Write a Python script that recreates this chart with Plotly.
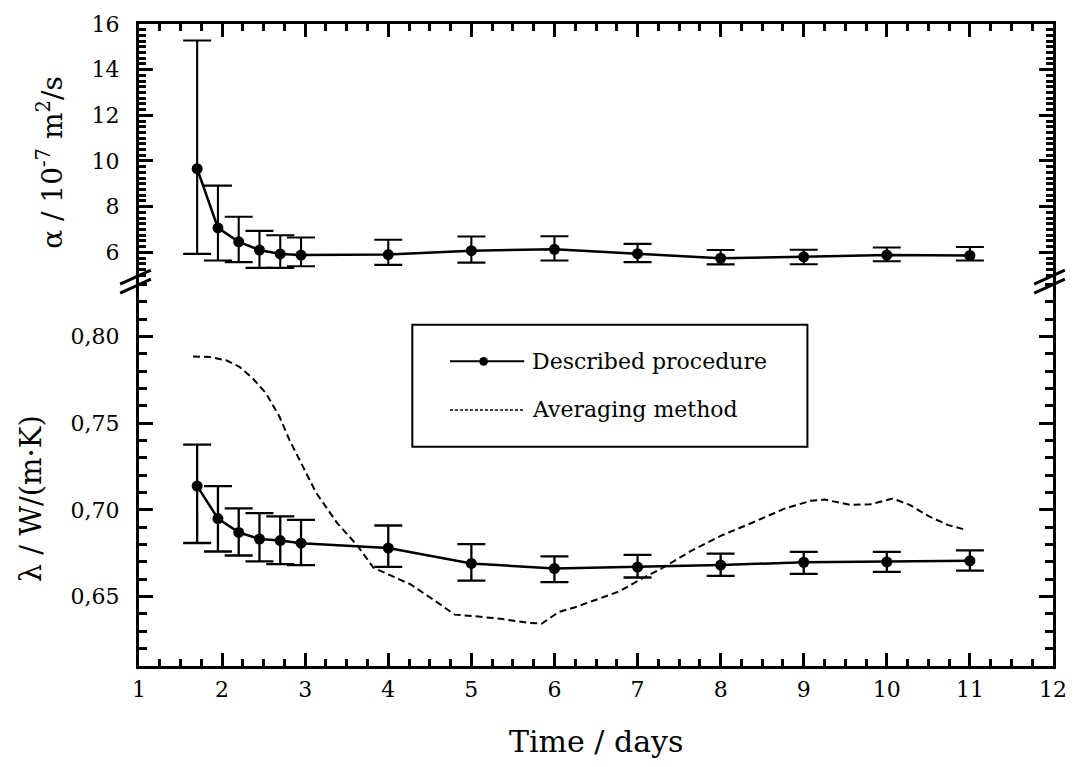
import plotly.graph_objects as go

# ---------------- data ----------------
days = [1.7, 1.95, 2.2, 2.45, 2.7, 2.95, 4, 5, 6, 7, 8, 9, 10, 11]

alpha = [9.66, 7.07, 6.46, 6.10, 5.93, 5.88, 5.90, 6.07, 6.13, 5.94, 5.74, 5.80, 5.88, 5.86]
alpha_hi = [15.28, 8.92, 7.56, 6.94, 6.75, 6.65, 6.55, 6.69, 6.70, 6.37, 6.10, 6.11, 6.21, 6.23]
alpha_lo = [5.93, 5.64, 5.57, 5.32, 5.32, 5.39, 5.45, 5.55, 5.64, 5.57, 5.47, 5.48, 5.61, 5.64]

lam = [0.7137, 0.6950, 0.6870, 0.6832, 0.6823, 0.6808, 0.6780, 0.6691, 0.6662, 0.6670, 0.6682, 0.6698, 0.6700, 0.6706]
lam_hi = [0.7376, 0.7137, 0.7008, 0.6981, 0.6962, 0.6942, 0.6910, 0.6802, 0.6732, 0.6740, 0.6748, 0.6758, 0.6758, 0.6767]
lam_lo = [0.6809, 0.6760, 0.6737, 0.6703, 0.6687, 0.6681, 0.6671, 0.6592, 0.6584, 0.6610, 0.6620, 0.6631, 0.6642, 0.6650]

avg_days = [1.65, 1.85, 2.05, 2.21, 2.37, 2.53, 2.69, 2.81, 2.93, 3.13, 3.38, 3.63, 3.82,
            4.0, 4.27, 4.55, 4.8, 5.02, 5.35, 5.7, 5.85, 6.05, 6.25, 6.53, 6.78, 7.02,
            7.3, 7.65, 8.0, 8.4, 8.77, 9.09, 9.25, 9.56, 9.8, 10.07, 10.27, 10.51, 10.74, 10.92]
avg_lam = [0.7884, 0.7881, 0.7862, 0.7824, 0.7757, 0.7671, 0.7538, 0.7404, 0.7290, 0.7100,
           0.6927, 0.6793, 0.6667, 0.6630, 0.6570, 0.6480, 0.6396, 0.6388, 0.6372, 0.6348,
           0.6345, 0.6411, 0.6439, 0.6487, 0.6530, 0.6595, 0.6665, 0.6765, 0.6850, 0.6930,
           0.7007, 0.7053, 0.7059, 0.7029, 0.7032, 0.7065, 0.7030, 0.6962, 0.6912, 0.6889]

x_ticks = list(range(1, 13))
alpha_ticks = [6, 8, 10, 12, 14, 16]
lam_ticks = [0.65, 0.70, 0.75, 0.80]
lam_ticklabels = ["0,65", "0,70", "0,75", "0,80"]

legend_names = ["Described procedure", "Averaging method"]

# ---------------- geometry helpers ----------------
W_FIG, H_FIG = 1079, 767
L, T, R, B = 139, 19, 17, 101
PW, PH = W_FIG - L - R, H_FIG - T - B
SPLIT = 0.601
FONT = "DejaVu Serif"


def px_x(p):
    return (p - L) / PW


def px_y(p):
    return (T + PH - p) / PH


fig = go.Figure()

fig.add_trace(go.Scatter(
    x=avg_days, y=avg_lam, xaxis="x", yaxis="y", mode="lines",
    line=dict(color="black", width=2, dash="7px,4px"), name=legend_names[1]))

fig.add_trace(go.Scatter(
    x=days, y=lam, xaxis="x", yaxis="y", mode="lines+markers",
    line=dict(color="black", width=2.5),
    marker=dict(color="black", size=11),
    error_y=dict(type="data", symmetric=False,
                 array=[h - v for h, v in zip(lam_hi, lam)],
                 arrayminus=[v - l for v, l in zip(lam, lam_lo)],
                 color="black", thickness=2.3, width=14),
    name=legend_names[0]))

fig.add_trace(go.Scatter(
    x=days, y=alpha, xaxis="x2", yaxis="y2", mode="lines+markers",
    line=dict(color="black", width=2.5),
    marker=dict(color="black", size=11),
    error_y=dict(type="data", symmetric=False,
                 array=[h - v for h, v in zip(alpha_hi, alpha)],
                 arrayminus=[v - l for v, l in zip(alpha, alpha_lo)],
                 color="black", thickness=2.1, width=14),
    name="alpha"))

common = dict(showline=True, linecolor="black", linewidth=3, ticks="inside",
              tickcolor="black", tickwidth=2.5, showgrid=False, zeroline=False,
              tickfont=dict(family=FONT, size=22, color="black"))

fig.update_layout(
    width=W_FIG, height=H_FIG,
    margin=dict(l=L, r=R, t=T, b=B),
    paper_bgcolor="white", plot_bgcolor="white",
    showlegend=False,
    font=dict(family=FONT, color="black", size=22),
    xaxis=dict(**common, range=[1, 12], tickvals=x_ticks, ticklen=13,
               anchor="y", domain=[0, 1], ticklabelstandoff=2,
               minor=dict(tickmode="linear", tick0=1, dtick=0.25, ticklen=7,
                          tickwidth=2.5, ticks="inside", tickcolor="black", showgrid=False)),
    xaxis2=dict(**common, range=[1, 12], matches="x", tickvals=x_ticks, ticklen=13,
                anchor="y2", side="top", showticklabels=False,
                minor=dict(tickmode="linear", tick0=1, dtick=0.25, ticklen=7,
                           tickwidth=2.5, ticks="inside", tickcolor="black", showgrid=False)),
    yaxis=dict(**common, domain=[0, SPLIT], range=[0.61, 0.8324], anchor="x",
               tickvals=lam_ticks, ticktext=lam_ticklabels, ticklen=14, mirror="ticks",
               ticklabelstandoff=12,
               minor=dict(tickmode="linear", tick0=0, dtick=0.01, ticklen=8,
                          tickwidth=2.5, ticks="inside", tickcolor="black", showgrid=False)),
    yaxis2=dict(**common, domain=[SPLIT, 1], range=[4.78, 16], anchor="x2",
                tickvals=alpha_ticks, ticklen=14, mirror="ticks", ticklabelstandoff=12,
                minor=dict(tickmode="linear", tick0=0, dtick=0.25, ticklen=7,
                           tickwidth=2.5, ticks="inside", tickcolor="black", showgrid=False)),
)

shapes = []
# axis break marks (left and right)
by = T + PH * (1 - SPLIT)
for ax in (L, L + PW):
    for dy in (0, 9):
        shapes.append(dict(type="line", xref="paper", yref="paper",
                           x0=px_x(ax - 19), y0=px_y(by + 4 + dy),
                           x1=px_x(ax + 12), y1=px_y(by - 10 + dy),
                           line=dict(color="black", width=3)))

# legend box
shapes.append(dict(type="rect", xref="paper", yref="paper",
                   x0=px_x(415), x1=px_x(814), y0=px_y(445), y1=px_y(322),
                   line=dict(color="black", width=2), fillcolor="white", layer="below"))
shapes.append(dict(type="line", xref="paper", yref="paper",
                   x0=px_x(453), x1=px_x(528), y0=px_y(359), y1=px_y(359),
                   line=dict(color="black", width=2)))
shapes.append(dict(type="circle", xref="paper", yref="paper",
                   x0=px_x(483), x1=px_x(491), y0=px_y(363), y1=px_y(355),
                   fillcolor="black", line=dict(color="black", width=1)))
shapes.append(dict(type="line", xref="paper", yref="paper",
                   x0=px_x(453), x1=px_x(528), y0=px_y(408), y1=px_y(408),
                   line=dict(color="black", width=1.5, dash="3px,2px")))
fig.update_layout(shapes=shapes)

annotations = [
    dict(text=legend_names[0], xref="paper", yref="paper", x=px_x(534), y=px_y(359),
         xanchor="left", yanchor="middle", showarrow=False,
         font=dict(family=FONT, size=22, color="black")),
    dict(text=legend_names[1], xref="paper", yref="paper", x=px_x(534), y=px_y(408),
         xanchor="left", yanchor="middle", showarrow=False,
         font=dict(family=FONT, size=22, color="black")),
    dict(text="Time / days", xref="paper", yref="paper", x=px_x(600), y=px_y(742),
         xanchor="center", yanchor="middle", showarrow=False,
         font=dict(family=FONT, size=30, color="black")),
    dict(text="α / 10<sup>-7</sup> m<sup>2</sup>/s", xref="paper", yref="paper",
         x=px_x(50), y=px_y(158), xanchor="center", yanchor="middle", textangle=-90,
         showarrow=False, font=dict(family=FONT, size=28, color="black")),
    dict(text="λ / W/(m·K)", xref="paper", yref="paper",
         x=px_x(30), y=px_y(498), xanchor="center", yanchor="middle", textangle=-90,
         showarrow=False, font=dict(family=FONT, size=29, color="black")),
]
fig.update_layout(annotations=annotations)

fig.write_html("out.html")
